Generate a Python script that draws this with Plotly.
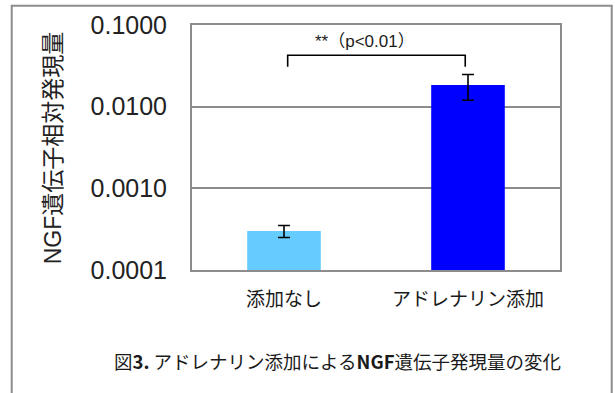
import math
import plotly.graph_objects as go

# ---- data ----
categories = ["添加なし", "アドレナリン添加"]
values = [0.00030, 0.0184]
errors = [0.00005, 0.0064]
bar_colors = ["#66CCFF", "#0000FF"]
y_tick_vals = [0.1, 0.01, 0.001, 0.0001]
y_tick_text = ["0.1000", "0.0100", "0.0010", "0.0001"]
sig_label = "**（p<0.01）"
bracket_x = [0.02, 0.02, 0.985, 0.985]
bracket_y = [0.0308, 0.0426, 0.0426, 0.0308]
sig_label_y = 0.0624
y_title = "NGF遺伝子相対発現量"
caption = "図<b>3.</b> アドレナリン添加による<b>NGF</b>遺伝子発現量の変化"

GRAY = "#8C8C8C"
LATIN_CJK = "Liberation Sans, Arial, Noto Sans CJK JP"

x_pos = list(range(len(categories)))

fig = go.Figure()
fig.add_trace(go.Bar(
    x=x_pos, y=values, width=0.4,
    marker=dict(color=bar_colors, line=dict(width=0)),
    error_y=dict(type="data", array=errors, visible=True,
                 color="black", thickness=1.6, width=6),
    showlegend=False, hoverinfo="skip",
))
fig.add_trace(go.Scatter(
    x=bracket_x, y=bracket_y, mode="lines",
    line=dict(color="black", width=1.6),
    showlegend=False, hoverinfo="skip",
))

fig.update_layout(
    width=615, height=393,
    margin=dict(l=192, r=55, t=25, b=123, autoexpand=False),
    paper_bgcolor="white", plot_bgcolor="white",
    font=dict(family=LATIN_CJK, color="black"),
)
fig.update_xaxes(
    range=[-0.5, 1.5], tickvals=x_pos, ticktext=categories,
    tickfont=dict(size=19, family="Noto Sans CJK JP", color="#1a1a1a"),
    showgrid=False, zeroline=False,
    showline=True, linecolor=GRAY, linewidth=2, mirror=True,
    ticks="", ticklabelstandoff=11,
)
fig.update_yaxes(
    type="log", range=[-4, -1],
    tickvals=y_tick_vals, ticktext=y_tick_text,
    tickfont=dict(size=25, family="Liberation Sans, Arial", color="#222"),
    showgrid=True, gridcolor=GRAY, gridwidth=2,
    showline=True, linecolor=GRAY, linewidth=2, mirror=True,
    ticks="", ticklabelstandoff=18, zeroline=False,
)

# significance label
fig.add_annotation(
    x=0.44, y=math.log10(sig_label_y), xref="x", yref="y",
    text=sig_label, showarrow=False,
    xanchor="center", yanchor="middle",
    font=dict(size=17, family="Liberation Sans, Noto Sans CJK JP", color="#1a1a1a"),
)
# y-axis title
fig.add_annotation(
    x=-0.3777, y=0.4967, xref="paper", yref="paper",
    text=y_title, textangle=-90, showarrow=False,
    xanchor="center", yanchor="middle",
    font=dict(size=23, family=LATIN_CJK, color="#222"),
)
# caption
fig.add_annotation(
    x=0.395, y=-0.370, xref="paper", yref="paper",
    text=caption, showarrow=False,
    xanchor="center", yanchor="middle",
    font=dict(size=18.5, family="Noto Sans CJK JP", color="#1a1a1a"),
)
# outer frame
fig.add_shape(
    type="rect", xref="paper", yref="paper",
    x0=-0.4899, x1=1.1405, y0=-0.6, y1=1.0788,
    line=dict(color=GRAY, width=2), fillcolor="rgba(0,0,0,0)", layer="below",
)

fig.write_html("out.html")
